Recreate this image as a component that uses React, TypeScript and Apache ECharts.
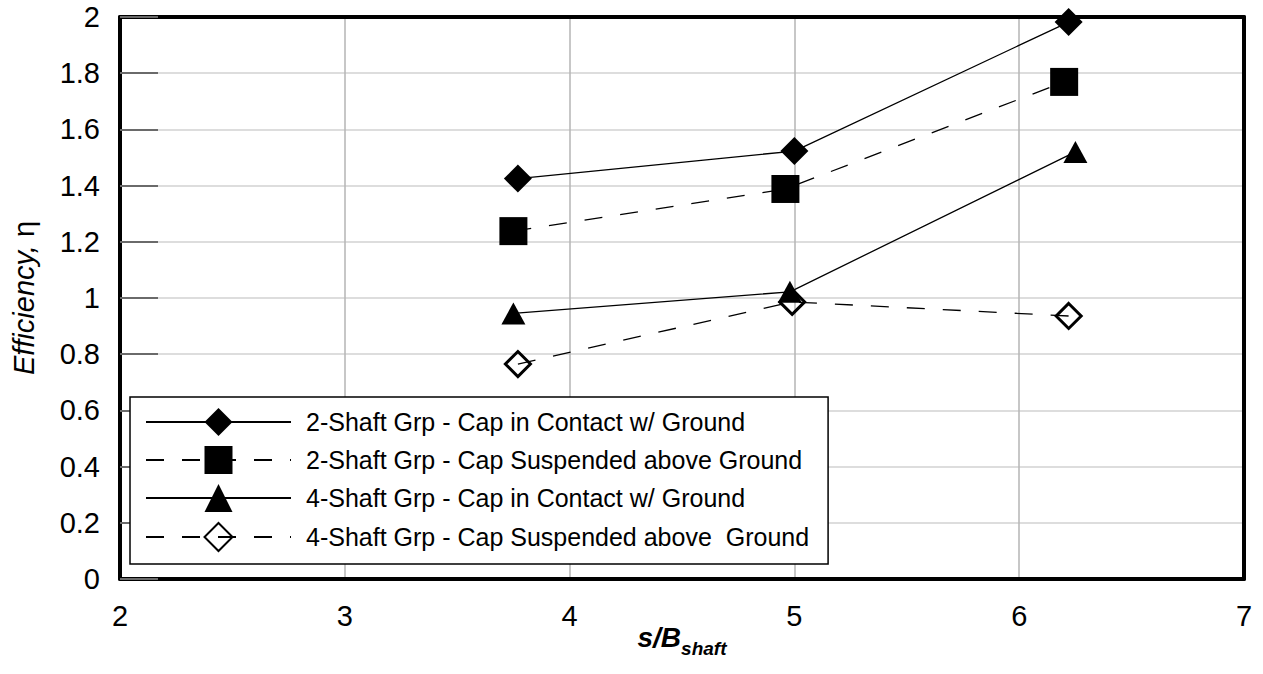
import React, { useEffect, useRef } from "react";
import * as echarts from "echarts";

const seriesNames = [
  "2-Shaft Grp - Cap in Contact w/ Ground",
  "2-Shaft Grp - Cap Suspended above Ground",
  "4-Shaft Grp - Cap in Contact w/ Ground",
  "4-Shaft Grp - Cap Suspended above  Ground",
];

const xTwoContact = [3.77, 5.0, 6.22];
const yTwoContact = [1.425, 1.523, 1.982];
const xTwoSuspended = [3.75, 4.96, 6.2];
const yTwoSuspended = [1.238, 1.388, 1.769];
const xFourContact = [3.75, 4.98, 6.25];
const yFourContact = [0.945, 1.022, 1.52];
const xFourSuspended = [3.77, 4.99, 6.22];
const yFourSuspended = [0.765, 0.986, 0.936];

const FONT = "Liberation Sans";
const BORDER = { show: true, onZero: false, lineStyle: { color: "#000", width: 4 } };

function pairs(xs: number[], ys: number[]) {
  return xs.map((x, i) => [x, ys[i]]);
}

export default function App() {
  const ref = useRef<HTMLDivElement>(null);
  useEffect(() => {
    document.body.style.margin = "0";
    const chart = echarts.init(ref.current!, null, { renderer: "svg" });
    const dashed = [18, 18];
    chart.setOption({
      animation: false,
      backgroundColor: "#fff",
      textStyle: { fontFamily: FONT, color: "#000" },
      grid: { left: 120, top: 17, right: 19, bottom: 95 },
      xAxis: [
        {
          type: "value",
          min: 2,
          max: 7,
          interval: 1,
          axisLine: BORDER,
          axisTick: { show: false },
          axisLabel: { fontSize: 29, color: "#000", margin: 22, fontFamily: FONT },
          splitLine: { show: true, lineStyle: { color: "#b4b4b4", width: 1.5 } },
          name: "{a|s/B}{b|shaft}",
          nameLocation: "middle",
          nameGap: 38,
          nameMoveOverlap: false,
          nameTextStyle: {
            rich: {
              a: { fontSize: 28, fontWeight: "bold", fontStyle: "italic", fontFamily: FONT, color: "#000" },
              b: {
                fontSize: 19,
                fontWeight: "bold",
                fontStyle: "italic",
                fontFamily: FONT,
                color: "#000",
                padding: [22, 0, 0, 0],
              },
            },
          },
        },
        {
          type: "value",
          position: "top",
          min: 2,
          max: 7,
          interval: 1,
          axisLine: BORDER,
          axisTick: { show: false },
          axisLabel: { show: false },
          splitLine: { show: false },
        },
      ],
      yAxis: [
        {
          type: "value",
          min: 0,
          max: 2,
          interval: 0.2,
          axisLine: BORDER,
          axisTick: { show: true, inside: true, length: 38, lineStyle: { color: "#6a6a6a", width: 2 } },
          axisLabel: { fontSize: 29, color: "#000", margin: 20, fontFamily: FONT },
          splitLine: { show: true, lineStyle: { color: "#d2d2d2", width: 1.5 } },
          name: "{a|Efficiency, }{b|η}",
          nameLocation: "middle",
          nameGap: 82,
          nameMoveOverlap: false,
          nameTextStyle: {
            rich: {
              a: { fontSize: 29, fontStyle: "italic", fontFamily: FONT, color: "#000" },
              b: { fontSize: 29, fontFamily: FONT, color: "#000" },
            },
          },
        },
        {
          type: "value",
          position: "right",
          min: 0,
          max: 2,
          interval: 0.2,
          axisLine: BORDER,
          axisTick: { show: false },
          axisLabel: { show: false },
          splitLine: { show: false },
        },
      ],
      legend: {
        orient: "vertical",
        left: 130,
        top: 397,
        padding: [11, 19, 12, 15],
        itemWidth: 145,
        itemHeight: 35,
        itemGap: 10,
        backgroundColor: "#fff",
        borderColor: "#000",
        borderWidth: 1.5,
        borderRadius: 0,
        textStyle: { fontSize: 25, color: "#000", fontFamily: FONT, padding: [0, 0, 0, 10] },
        data: seriesNames,
      },
      series: [
        {
          name: seriesNames[0],
          type: "line",
          data: pairs(xTwoContact, yTwoContact),
          symbol: "diamond",
          symbolSize: 28,
          itemStyle: { color: "#000" },
          lineStyle: { color: "#000", width: 1.3, type: "solid" },
          z: 5,
        },
        {
          name: seriesNames[1],
          type: "line",
          data: pairs(xTwoSuspended, yTwoSuspended),
          symbol: "rect",
          symbolSize: 28,
          itemStyle: { color: "#000" },
          lineStyle: { color: "#000", width: 1.3, type: dashed },
          z: 4,
        },
        {
          name: seriesNames[2],
          type: "line",
          data: pairs(xFourContact, yFourContact),
          symbol: "triangle",
          symbolSize: [24, 22],
          itemStyle: { color: "#000" },
          lineStyle: { color: "#000", width: 1.3, type: "solid" },
          z: 4,
        },
        {
          name: seriesNames[3],
          type: "line",
          data: pairs(xFourSuspended, yFourSuspended),
          symbol: "diamond",
          symbolSize: 25,
          itemStyle: { color: "rgba(255,255,255,0)", borderColor: "#000", borderWidth: 3 },
          lineStyle: { color: "#000", width: 1.3, type: dashed },
          z: 3,
        },
      ],
    });
    return () => chart.dispose();
  }, []);
  return <div ref={ref} style={{ position: "fixed", left: 0, top: 0, width: 1263, height: 674 }} />;
}
